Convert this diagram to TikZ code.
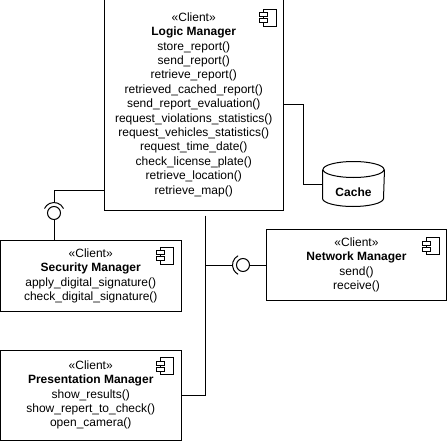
\documentclass[tikz,border=0pt]{standalone}
\usepackage{fontspec}
\setmainfont{Liberation Sans}
\usetikzlibrary{calc}
\newcommand\compicon[2]{%
  \draw ($(#1.north east)+(-21,#2)$) rectangle ++(13,17);
  \draw[fill=white] ($(#1.north east)+(-25,#2+3.5)$) rectangle ++(8,4);
  \draw[fill=white] ($(#1.north east)+(-25,#2+9.5)$) rectangle ++(8,4);}
\begin{document}
\begin{tikzpicture}[x=1pt,y=-1pt,line width=1pt,
  box/.style={draw, rectangle, inner sep=0pt, align=center, font=\fontsize{12}{14.4}\selectfont},
  ball/.style={draw, circle, inner sep=0pt, minimum size=13pt},
  lbl/.style={inner sep=0pt, font=\bfseries\fontsize{12}{14.4}\selectfont}]
\useasboundingbox (0,0) rectangle (447,441);

\node[box, minimum width=179.5pt, minimum height=211pt] (logic) at (193.75,104.5)
 {«Client»\\\textbf{Logic Manager}\\store\_report()\\send\_report()\\retrieve\_report()\\retrieved\_cached\_report()\\send\_report\_evaluation()\\request\_violations\_statistics()\\request\_vehicles\_statistics()\\request\_time\_date()\\check\_license\_plate()\\retrieve\_location()\\retrieve\_map()};
\compicon{logic}{11}

\node[box, minimum width=180.5pt, minimum height=70.5pt] (secu) at (90.75,275.75)
 {«Client»\\\textbf{Security Manager}\\apply\_digital\_signature()\\check\_digital\_signature()};
\compicon{secu}{7}

\node[box, minimum width=180.5pt, minimum height=90pt] (pres) at (90.75,395)
 {«Client»\\\textbf{Presentation Manager}\\show\_results()\\show\_repert\_to\_check()\\open\_camera()};
\compicon{pres}{8}

\node[box, minimum width=180pt, minimum height=71.5pt] (net) at (356.5,264.75)
 {«Client»\\\textbf{Network Manager}\\send()\\receive()};
\compicon{net}{9}

% cache cylinder
\node[inner sep=0pt, minimum width=61pt, minimum height=44pt] (cache) at (353.5,184) {};
\draw ($(cache.north)+(0,8)$) ellipse [x radius=30.5pt, y radius=8pt];
\draw ($(cache.north west)+(0,8)$) -- ($(cache.south west)+(0,-8)$)
  arc[start angle=180, end angle=360, x radius=30.5pt, y radius=8pt]
  -- ($(cache.north east)+(0,8)$);
\node[lbl] (cachelbl) at (353.5,192) {Cache};

% logic -> cache
\draw (logic.east) -- ++(19.5,0) |- (cache.west);

% security lollipop
\node[ball] (sball) at (54,213) {};
\coordinate (lj) at (104,190);
\coordinate (ssock) at ($(sball.center)+(0,-10.5)$);
\draw (sball.center) ++(25:10.5pt) arc[start angle=25, end angle=155, radius=10.5pt];
\draw (lj) -| (ssock);
\draw (sball.south) -- (secu.north -| sball.south);

% bus
\coordinate (bus) at (205,395);
\draw ($(bus |- logic.south)+(0,5)$) -- (bus) -- (pres.east);

% network lollipop
\node[ball] (nball) at (243,265) {};
\draw (nball.center) ++(118:10.5pt) arc[start angle=118, end angle=242, radius=10.5pt];
\draw (bus |- nball) -- ($(nball.center)+(-10.5,0)$);
\draw (nball.east) -- (net.west |- nball.east);
\end{tikzpicture}
\end{document}
